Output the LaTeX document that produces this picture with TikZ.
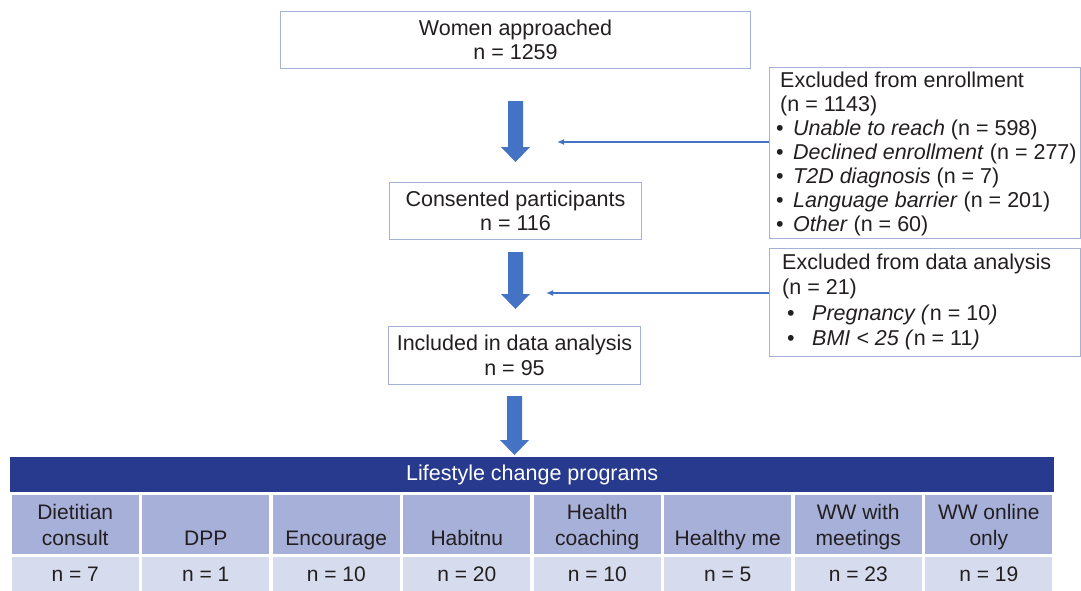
\documentclass[tikz,border=0pt]{standalone}
\usepackage{fontspec}
\setmainfont{Liberation Sans}
\usetikzlibrary{arrows.meta,calc}
\definecolor{boxc}{HTML}{A3B1D6}
\definecolor{arrowblue}{HTML}{4472C4}
\definecolor{hdrc}{HTML}{283A8E}
\definecolor{rowtwo}{HTML}{A6B0D9}
\definecolor{rowthree}{HTML}{D6DCEE}
\definecolor{txt}{HTML}{231F20}
\newcommand\blockarr[2]{\fill[arrowblue] let \p1=(#1), \p2=(#2) in
  (\x1-7.5pt,\y1) -- (\x1+7.5pt,\y1) -- (\x1+7.5pt,\y2+15pt) -- (\x1+14.5pt,\y2+15pt)
  -- (\x1,\y2) -- (\x1-14.5pt,\y2+15pt) -- (\x1-7.5pt,\y2+15pt) -- cycle;}
\begin{document}
\begin{tikzpicture}[x=1pt,y=-1pt,
  every node/.style={text=txt, font=\fontsize{21.5}{24.5}\selectfont},
  mainbox/.style={draw=boxc, line width=1pt, fill=white, inner sep=0pt, align=center, anchor=north west},
  exbox/.style={draw=boxc, line width=1pt, fill=white, inner sep=0pt, anchor=north west},
  line/.style={anchor=base west, inner sep=0pt},
  thinarrow/.style={draw=arrowblue, line width=1.4pt, -{Latex[length=7pt,width=6pt]}},
  cellA/.style={fill=rowtwo, minimum width=127, minimum height=59, inner sep=0pt, anchor=north},
  cellB/.style={fill=rowthree, minimum width=127, minimum height=34, inner sep=0pt, anchor=north},
  ctext/.style={anchor=base, inner sep=0pt, font=\fontsize{21}{24}\selectfont}]
\useasboundingbox (0,0) rectangle (1081,590);
\fill[white] (0,0) rectangle (1081,590);

% main boxes
\node[mainbox, minimum width=470, minimum height=57] (wa) at (280,11) {Women approached\\n = 1259};
\node[mainbox, minimum width=252, minimum height=57] (cons) at (389,182) {Consented participants\\n = 116};
\node[mainbox, minimum width=252, minimum height=58] (incl) at (388,326) {Included in data analysis\\n = 95};

% exclusion boxes
\node[exbox, minimum width=311, minimum height=171] (ex1) at (769,67) {};
\node[exbox, minimum width=311, minimum height=108] (ex2) at (769,248) {};

\node[line] (e1a) at (780,87) {Excluded from enrollment};
\node[line] (e1b) at (780,111) {(n = 1143)};
\foreach \t [count=\k] in {{\textit{Unable to reach} (n = 598)},{\textit{Declined enrollment} (n = 277)},{\textit{T2D diagnosis} (n = 7)},{\textit{Language barrier} (n = 201)},{\textit{Other} (n = 60)}}{
  \node[line] (e1bul\k) at (776,111+24*\k) {•};
  \node[line] (e1t\k) at (793,111+24*\k) {\t};
}
\node[line] (e2a) at (782,269) {Excluded from data analysis};
\node[line] (e2b) at (782,294.5) {(n = 21)};
\node[line] (e2bul1) at (787,320) {•};
\node[line] (e2t1) at (812,320) {\textit{Pregnancy (}n = 10\textit{)}};
\node[line] (e2bul2) at (787,345.5) {•};
\node[line] (e2t2) at (812,345.5) {\textit{BMI < 25 (}n = 11\textit{)}};

% thin arrows
\coordinate (t1) at (557,142);
\coordinate (t2) at (546,293);
\draw[thinarrow] (t1 -| ex1.west) -- (t1);
\draw[thinarrow] (t2 -| ex2.west) -- (t2);

% header
\node[fill=hdrc, minimum width=1044, minimum height=35, inner sep=0pt, anchor=north west, text=white] (hdr) at (10,457) {Lifestyle change programs};

% block arrows
\coordinate (a1s) at ($(wa.south)+(0,32)$);
\coordinate (a1t) at ($(cons.north)+(0,-20)$);
\coordinate (a2s) at ($(cons.south)+(0,12)$);
\coordinate (a2t) at ($(incl.north)+(0,-17)$);
\coordinate (a3s) at ($(incl.south)+(0,11)$);
\coordinate (a3t) at ($(hdr.north -| incl.south)+(0,-2)$);
\blockarr{a1s}{a1t}
\blockarr{a2s}{a2t}
\blockarr{a3s}{a3t}

% table cells
\foreach \b/\n [count=\k from 0] in {consult/7,DPP/1,Encourage/10,Habitnu/20,coaching/10,Healthy me/5,meetings/23,only/19}{
  \node[cellA] (ca\k) at (10+130.5*\k+65.25,495) {};
  \node[cellB] (cb\k) at (10+130.5*\k+65.25,557) {};
  \node[ctext] (cl\k) at (10+130.5*\k+65.25,545) {\b};
  \node[ctext] (cn\k) at (10+130.5*\k+65.25,581) {n = \n};
}
\node[ctext] (cu0) at (10+130.5*0+65.25,519) {Dietitian};
\node[ctext] (cu4) at (10+130.5*4+65.25,519) {Health};
\node[ctext] (cu6) at (10+130.5*6+65.25,519) {WW with};
\node[ctext] (cu7) at (10+130.5*7+65.25,519) {WW online};
\end{tikzpicture}
\end{document}
